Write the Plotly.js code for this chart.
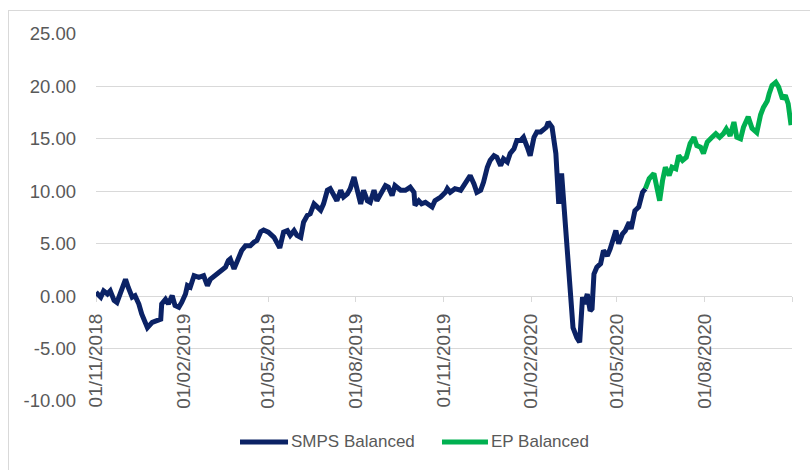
<!DOCTYPE html>
<html>
<head>
<meta charset="utf-8">
<script src="https://cdn.plot.ly/plotly-3.0.1.min.js"></script>
<style>
  html, body { margin: 0; padding: 0; background: #ffffff; overflow: hidden; }
  #chart { width: 810px; height: 470px; }
  #frame { position: absolute; left: 8px; top: 10px; width: 830px; height: 490px;
           border: 1px solid #d9d9d9; pointer-events: none; }
</style>
</head>
<body>
<div id="chart"></div>
<div id="frame"></div>
<script>
const seriesNames = ["SMPS Balanced", "EP Balanced"];
const seriesColors = ["#0b2265", "#00b050"];

const smpsDates = [
  "2018-11-01","2018-11-06","2018-11-09","2018-11-13","2018-11-16","2018-11-20","2018-11-23","2018-11-27",
  "2018-12-02","2018-12-05","2018-12-09","2018-12-12","2018-12-16","2018-12-19","2018-12-23","2018-12-25","2018-12-30",
  "2019-01-04","2019-01-08","2019-01-09","2019-01-13","2019-01-16","2019-01-20","2019-01-23","2019-01-27","2019-01-30",
  "2019-02-03","2019-02-05","2019-02-08","2019-02-12","2019-02-17","2019-02-22","2019-02-26",
  "2019-03-01","2019-03-06","2019-03-12","2019-03-17","2019-03-20","2019-03-22","2019-03-26","2019-03-29",
  "2019-04-03","2019-04-07","2019-04-12","2019-04-16","2019-04-19","2019-04-23","2019-04-26",
  "2019-05-01","2019-05-07","2019-05-13","2019-05-17","2019-05-21","2019-05-24","2019-05-28","2019-05-31",
  "2019-06-04","2019-06-07","2019-06-11","2019-06-14","2019-06-18","2019-06-21","2019-06-25","2019-06-28",
  "2019-07-02","2019-07-05","2019-07-09","2019-07-12","2019-07-16","2019-07-19","2019-07-23","2019-07-26","2019-07-30",
  "2019-08-02","2019-08-06","2019-08-09","2019-08-13","2019-08-16","2019-08-20","2019-08-23","2019-08-27",
  "2019-09-01","2019-09-04","2019-09-08","2019-09-11","2019-09-17","2019-09-22","2019-09-27",
  "2019-10-01","2019-10-02","2019-10-06","2019-10-09","2019-10-13","2019-10-16","2019-10-20","2019-10-23","2019-10-29",
  "2019-11-03","2019-11-05","2019-11-08","2019-11-13","2019-11-19","2019-11-22","2019-11-26","2019-11-29",
  "2019-12-03","2019-12-06","2019-12-10","2019-12-13","2019-12-17","2019-12-20","2019-12-24","2019-12-27","2019-12-31",
  "2020-01-03","2020-01-07","2020-01-10","2020-01-14","2020-01-17","2020-01-21","2020-01-24","2020-01-28","2020-01-31",
  "2020-02-04","2020-02-07","2020-02-11","2020-02-14","2020-02-17","2020-02-19","2020-02-23","2020-02-27","2020-02-29",
  "2020-03-01","2020-03-04","2020-03-06","2020-03-10","2020-03-13","2020-03-16","2020-03-20","2020-03-23","2020-03-26","2020-03-28","2020-03-31",
  "2020-04-03","2020-04-05","2020-04-07","2020-04-10","2020-04-14","2020-04-17","2020-04-21","2020-04-24","2020-04-30",
  "2020-05-03","2020-05-07","2020-05-10","2020-05-14","2020-05-16","2020-05-20","2020-05-24","2020-05-28","2020-05-31"
];
const smpsValues = [
  0.36,-0.1,0.5,0.2,0.5,-0.4,-0.6,0.5,
  1.6,0.8,-0.1,0.05,-0.75,-1.7,-2.65,-3.0,-2.5,
  -2.35,-2.2,-0.75,-0.3,-0.75,0.05,-0.9,-1.07,-0.6,
  0.2,1.0,0.85,1.96,1.8,1.96,1.0,
  1.6,1.96,2.3,2.75,3.4,3.55,2.6,3.3,
  4.35,4.8,4.8,5.15,5.3,6.15,6.3,
  6.1,5.6,4.6,6.1,6.25,5.8,6.25,5.8,
  5.6,7.05,7.7,7.85,8.8,8.5,8.2,8.8,
  10.1,10.25,9.45,9.1,10.1,9.45,9.75,10.25,11.35,
  10.4,8.8,10.1,9.1,8.95,10.1,9.1,9.75,
  10.55,10.4,9.6,10.55,10.1,10.1,10.4,
  9.9,8.65,9.1,8.8,8.95,8.8,8.5,9.1,9.45,
  9.9,10.25,9.9,10.25,10.1,10.55,11.2,11.5,
  10.7,9.9,10.1,10.85,12.3,12.95,13.4,13.25,12.45,
  13.1,12.8,13.6,14.05,14.85,14.85,15.15,14.2,13.4,
  15.15,15.65,15.65,15.95,16.1,16.6,16.1,13.6,10.7,
  8.8,11.7,9.1,5.6,1.15,-3.0,-3.95,-4.4,-0.1,-0.75,0.2,
  -1.4,-1.2,2.1,2.75,3.1,4.35,3.85,4.5,6.25,
  5.0,5.95,6.25,7.05,6.4,8.15,8.5,9.9,10.25
];

const epDates = [
  "2020-05-31","2020-06-04","2020-06-09","2020-06-12","2020-06-15","2020-06-18","2020-06-21","2020-06-25","2020-06-28",
  "2020-07-02","2020-07-05","2020-07-09","2020-07-13","2020-07-17","2020-07-21","2020-07-24","2020-07-28","2020-07-31",
  "2020-08-04","2020-08-09","2020-08-13","2020-08-17","2020-08-21","2020-08-24","2020-08-28",
  "2020-09-01","2020-09-04","2020-09-08","2020-09-11","2020-09-16","2020-09-20","2020-09-25","2020-09-29",
  "2020-10-02","2020-10-06","2020-10-08","2020-10-11","2020-10-15","2020-10-18","2020-10-22","2020-10-25","2020-10-28","2020-10-31"
];
const epValues = [
  10.25,11.2,11.7,10.4,9.1,11.0,12.3,11.5,12.3,
  12.15,13.4,12.95,13.25,14.55,15.15,14.35,14.2,13.6,
  14.7,15.15,15.5,15.15,15.5,15.95,15.3,
  16.6,15.15,15.0,16.1,17.1,16.0,15.6,17.3,
  18.0,18.6,19.3,20.1,20.4,19.95,18.8,19.15,18.35,16.3
];

const xTickDates = ["2018-11-01","2019-02-01","2019-05-01","2019-08-01","2019-11-01","2020-02-01","2020-05-01","2020-08-01"];
const xTickLabels = ["01/11/2018","01/02/2019","01/05/2019","01/08/2019","01/11/2019","01/02/2020","01/05/2020","01/08/2020"];
const xRange = ["2018-11-01","2020-11-01"];
const yTickValues = [-10, -5, 0, 5, 10, 15, 20, 25];
const yTickLabels = ["-10.00","-5.00","0.00","5.00","10.00","15.00","20.00","25.00"];
const yRange = [-10, 25];

const traces = [
  { x: smpsDates, y: smpsValues, name: seriesNames[0], type: "scatter", mode: "lines",
    line: { color: seriesColors[0], width: 5 }, showlegend: false },
  { x: epDates, y: epValues, name: seriesNames[1], type: "scatter", mode: "lines",
    line: { color: seriesColors[1], width: 5 }, showlegend: false }
];

// custom legend (line sample + label), placed in paper coordinates
const legendY = -0.1117;
const legendItems = [
  { x0: 0.2069, x1: 0.2759, tx: 0.2787 },
  { x0: 0.4971, x1: 0.5632, tx: 0.5661 }
];
const shapes = legendItems.map((it, i) => ({
  type: "line", xref: "paper", yref: "paper",
  x0: it.x0, x1: it.x1, y0: legendY, y1: legendY,
  line: { color: seriesColors[i], width: 5 }
}));
const annotations = legendItems.map((it, i) => ({
  xref: "paper", yref: "paper", x: it.tx, y: legendY,
  xanchor: "left", yanchor: "middle", showarrow: false,
  text: seriesNames[i], font: { size: 17, color: "#595959" }, borderpad: 0
}));

const layout = {
  width: 810, height: 470,
  margin: { l: 96, r: 18, t: 34, b: 69, pad: 0 },
  paper_bgcolor: "#ffffff", plot_bgcolor: "#ffffff",
  font: { family: "Liberation Sans, Arial, sans-serif", color: "#595959" },
  showlegend: false,
  xaxis: {
    type: "date", range: xRange, anchor: "free", position: (0 - yRange[0]) / (yRange[1] - yRange[0]),
    tickvals: xTickDates, ticktext: xTickLabels, tickangle: -90,
    ticks: "outside", ticklen: 5, tickcolor: "#d9d9d9", tickwidth: 1,
    showline: true, linecolor: "#d9d9d9", linewidth: 1, layer: "below traces",
    showgrid: false, zeroline: false, automargin: false, ticklabelstandoff: 4,
    tickfont: { size: 19, color: "#595959" },
    minor: { tickvals: [xRange[1]], ticks: "outside", ticklen: 5, tickcolor: "#d9d9d9", showgrid: false }
  },
  yaxis: {
    range: yRange, tickvals: yTickValues, ticktext: yTickLabels,
    showgrid: true, gridcolor: "#d9d9d9", gridwidth: 1, layer: "below traces",
    zeroline: false, showline: false, ticks: "", ticklabelstandoff: 19, automargin: false,
    tickfont: { size: 18.5, color: "#595959" }
  },
  shapes: shapes,
  annotations: annotations
};

Plotly.newPlot("chart", traces, layout, { staticPlot: true, displayModeBar: false });
</script>
</body>
</html>
